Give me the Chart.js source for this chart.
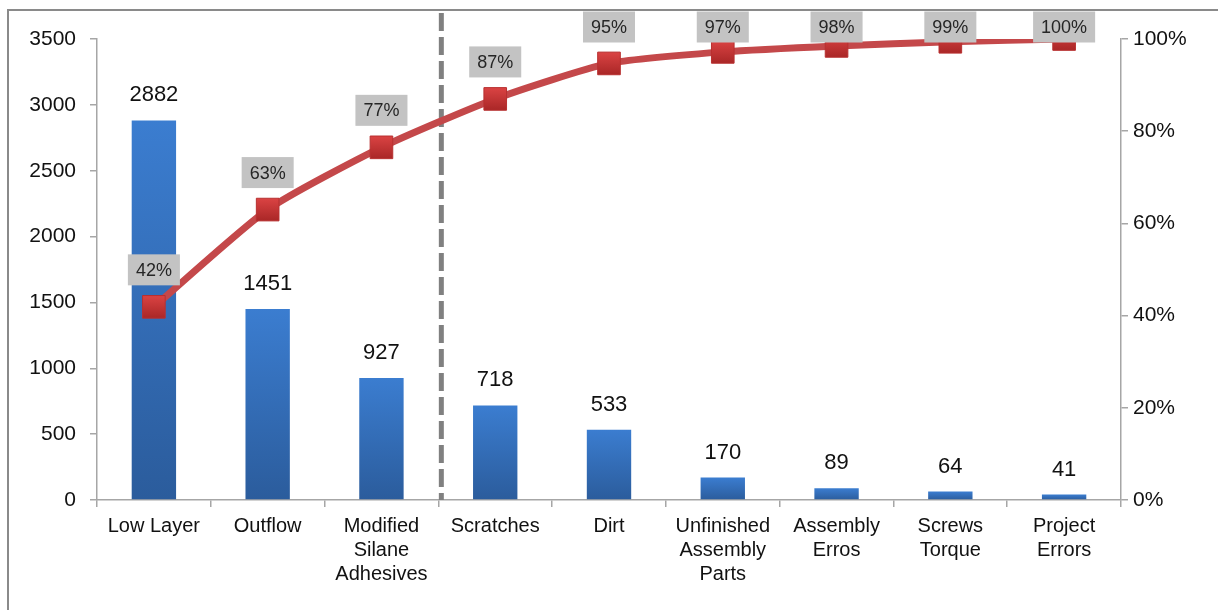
<!DOCTYPE html>
<html>
<head>
<meta charset="utf-8">
<script src="https://cdn.jsdelivr.net/npm/chart.js@4.4.1/dist/chart.umd.min.js"></script>
<style>
  html, body { margin: 0; padding: 0; background: #fff; }
  #wrap { position: relative; width: 1218px; height: 610px; }
</style>
</head>
<body>
<div id="wrap"><canvas id="pareto"></canvas></div>
<script>
'use strict';

const categories = [
  ['Low Layer'], ['Outflow'], ['Modified', 'Silane', 'Adhesives'], ['Scratches'], ['Dirt'],
  ['Unfinished', 'Assembly', 'Parts'], ['Assembly', 'Erros'], ['Screws', 'Torque'], ['Project', 'Errors']
];
const counts = [2882, 1451, 927, 718, 533, 170, 89, 64, 41];
const cumulativePct = [41.9, 63.0, 76.5, 87.0, 94.7, 97.2, 98.5, 99.4, 100];
const pctLabels = ['42%', '63%', '77%', '87%', '95%', '97%', '98%', '99%', '100%'];
const leftTicks = [0, 500, 1000, 1500, 2000, 2500, 3000, 3500];
const rightTicks = [0, 20, 40, 60, 80, 100];

const FONT = '"Liberation Sans", Arial, sans-serif';

// 막대 하나하나에 세로 그라디언트
function barGradient(ctx) {
  const chart = ctx.chart;
  const area = chart.chartArea;
  if (!area || ctx.type !== 'data') return '#3470be';
  const top = chart.scales.y.getPixelForValue(ctx.raw);
  const g = chart.ctx.createLinearGradient(0, top, 0, area.bottom);
  g.addColorStop(0, '#3b7dd0');
  g.addColorStop(1, '#2b5c9c');
  return g;
}

function markerGradient(ctx) {
  const chart = ctx.chart;
  const area = chart.chartArea;
  if (!area || ctx.type !== 'data') return '#c83a3a';
  const y = chart.scales.y1.getPixelForValue(ctx.raw);
  const g = chart.ctx.createLinearGradient(0, y - 12, 0, y + 12);
  g.addColorStop(0, '#dc4444');
  g.addColorStop(1, '#a82626');
  return g;
}

const paretoDecor = {
  id: 'paretoDecor',
  beforeDraw(chart) {
    const c = chart.ctx;
    c.save();
    c.strokeStyle = '#8a8a8a';
    c.lineWidth = 2;
    c.beginPath();
    c.moveTo(8, 610);
    c.lineTo(8, 10);
    c.lineTo(1218, 10);
    c.stroke();
    c.restore();
  },
  beforeDatasetsDraw(chart) {
    // 3번째와 4번째 항목 사이 점선
    const c = chart.ctx;
    const x = chart.scales.x;
    const px = (x.getPixelForValue(2) + x.getPixelForValue(3)) / 2 + 3;
    c.save();
    c.strokeStyle = '#808080';
    c.lineWidth = 5;
    c.setLineDash([18, 6]);
    c.beginPath();
    c.moveTo(px, 13);
    c.lineTo(px, chart.chartArea.bottom);
    c.stroke();
    c.restore();
  },
  afterDatasetsDraw(chart) {
    const c = chart.ctx;
    c.save();
    c.textAlign = 'center';
    c.textBaseline = 'middle';

    // 막대 값 라벨
    c.font = '22px ' + FONT;
    c.fillStyle = '#111';
    chart.getDatasetMeta(0).data.forEach((bar, i) => {
      c.fillText(String(counts[i]), bar.x, bar.y - 25);
    });

    // 누적 % 라벨 (회색 박스)
    c.font = '18px ' + FONT;
    chart.getDatasetMeta(1).data.forEach((pt, i) => {
      const txt = pctLabels[i];
      const w = c.measureText(txt).width + 16;
      const h = 31;
      const cy = Math.max(pt.y - 37, 27);
      c.fillStyle = '#c3c3c3';
      c.fillRect(pt.x - w / 2, cy - h / 2, w, h);
      c.fillStyle = '#262626';
      c.fillText(txt, pt.x, cy + 1);
    });
    c.restore();
  }
};

const axisColor = '#a6a6a6';

new Chart(document.getElementById('pareto'), {
  type: 'bar',
  data: {
    labels: categories,
    datasets: [{
      type: 'bar',
      label: 'Count',
      data: counts,
      yAxisID: 'y',
      backgroundColor: barGradient,
      barPercentage: 0.39,
      categoryPercentage: 1,
      order: 2,
    }, {
      type: 'line',
      label: 'Cumulative %',
      data: cumulativePct,
      yAxisID: 'y1',
      borderColor: '#c4484a',
      borderWidth: 7,
      tension: 0.2,
      pointStyle: 'rect',
      pointRadius: 16,
      pointHoverRadius: 16,
      pointBackgroundColor: markerGradient,
      pointBorderColor: '#b83030',
      pointBorderWidth: 1,
      order: 1,
    }],
  },
  options: {
    responsive: true,
    maintainAspectRatio: false,
    animation: false,
    layout: { padding: { top: 39, left: 0, right: 0, bottom: 0 } },
    plugins: {
      legend: { display: false },
      tooltip: { enabled: false },
    },
    scales: {
      x: {
        offset: true,
        border: { color: axisColor, width: 1.5 },
        grid: { drawOnChartArea: false, offset: true, tickLength: 7, color: axisColor, lineWidth: 1.5 },
        ticks: {
          color: '#111',
          font: { size: 20, family: FONT, lineHeight: 1.18 },
          maxRotation: 0,
          autoSkip: false,
          padding: 8,
        },
        afterFit: (s) => { s.height = 110; },
      },
      y: {
        position: 'left',
        min: 0,
        max: 3500,
        border: { color: axisColor, width: 1.5 },
        grid: { drawOnChartArea: false, tickLength: 7, color: axisColor, lineWidth: 1.5 },
        afterBuildTicks: (s) => { s.ticks = leftTicks.map(v => ({ value: v })); },
        ticks: {
          color: '#111',
          font: { size: 21, family: FONT },
          padding: 14,
          callback: (v) => String(v),
        },
        afterFit: (s) => { s.width = 97; },
      },
      y1: {
        position: 'right',
        min: 0,
        max: 100,
        border: { color: axisColor, width: 1.5 },
        grid: { drawOnChartArea: false, tickLength: 7, color: axisColor, lineWidth: 1.5 },
        afterBuildTicks: (s) => { s.ticks = rightTicks.map(v => ({ value: v })); },
        ticks: {
          color: '#111',
          font: { size: 21, family: FONT },
          padding: 5,
          callback: (v) => v + '%',
        },
        afterFit: (s) => { s.width = 97; },
      },
    },
  },
  plugins: [paretoDecor],
});
</script>
</body>
</html>
